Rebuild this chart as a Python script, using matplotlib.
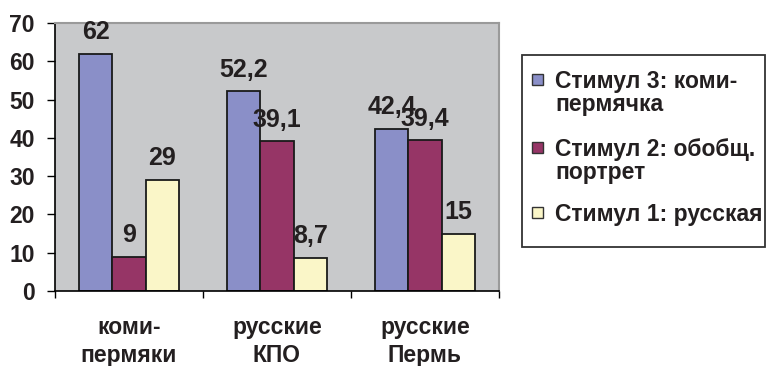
import numpy as np
import matplotlib
matplotlib.use('Agg')
from matplotlib import pyplot as plt
from matplotlib.patches import Rectangle

plt.rcParams['font.family'] = ['Liberation Sans', 'DejaVu Sans']
plt.rcParams['font.weight'] = 'bold'

# %%
groups = ['коми-\nпермяки', 'русские\nКПО', 'русские\nПермь']
series = ['Стимул 3: коми-\nпермячка', 'Стимул 2: обобщ.\nпортрет', 'Стимул 1: русская']
stim3 = [62, 52.2, 42.4]
stim2 = [9, 39.1, 39.4]
stim1 = [29, 8.7, 15]
colors = ['#8a8fc8', '#963566', '#faf6c8']
txt = '#231f20'

# %%
W, H = 767, 366
fig = plt.figure(figsize=(W / 100, H / 100), dpi=100)
ax = fig.add_axes([55 / W, 75 / H, 444 / W, 268 / H])
ax.set_facecolor('#c8c9cb')

x = np.arange(len(groups))
bw = 0.225
for i, (vals, c) in enumerate(zip([stim3, stim2, stim1], colors)):
    bars = ax.bar(x + (i - 1) * bw, vals, bw, color=c, edgecolor='#1a1a1a',
                  lw=1.3, zorder=2)
    for b, v in zip(bars, vals):
        lab = f'{v:g}'.replace('.', ',')
        ax.annotate(lab, (b.get_x() + b.get_width() / 2, v), xytext=(0, 21.5),
                    textcoords='offset pixels', ha='center', va='center',
                    fontsize=18, color=txt, zorder=3)

ax.set(xlim=(-0.5, 2.5), ylim=(0, 70))
ax.set_yticks(np.arange(0, 71, 10))
ax.tick_params(axis='y', length=6, width=1, pad=8.5, labelsize=16.5,
               labelcolor=txt)
ax.set_xticks(x)
ax.set_xticklabels(groups, linespacing=1.3)
ax.set_xticks(np.arange(-0.5, 3, 1), minor=True)
ax.tick_params(axis='x', which='major', length=0, pad=18, labelsize=16.5,
               labelcolor=txt)
ax.tick_params(axis='x', which='minor', length=5, width=1)
for s in ['left', 'bottom']:
    ax.spines[s].set(color='black', lw=1.2)
for s in ['top', 'right']:
    ax.spines[s].set(color='#9a9a9a', lw=1.5)

# %% legend box drawn by hand
fig.add_artist(Rectangle((522 / W, 1 - 247 / H), 243 / W, 192 / H,
                         transform=fig.transFigure, fill=False,
                         ec='#333333', lw=1.3))
base = [88, 156, 221]
for lab, c, y0 in zip(series, colors, base):
    fig.add_artist(Rectangle((532 / W, 1 - (y0 - 3) / H), 11 / W, 11 / H,
                             transform=fig.transFigure, fc=c,
                             ec='#333333', lw=1))
    for k, line in enumerate(lab.split('\n')):
        fig.text(555 / W, 1 - (y0 + 23 * k) / H, line, fontsize=16.5,
                 color=txt, va='baseline', ha='left')

fig.savefig('out.png')
plt.close(fig)
